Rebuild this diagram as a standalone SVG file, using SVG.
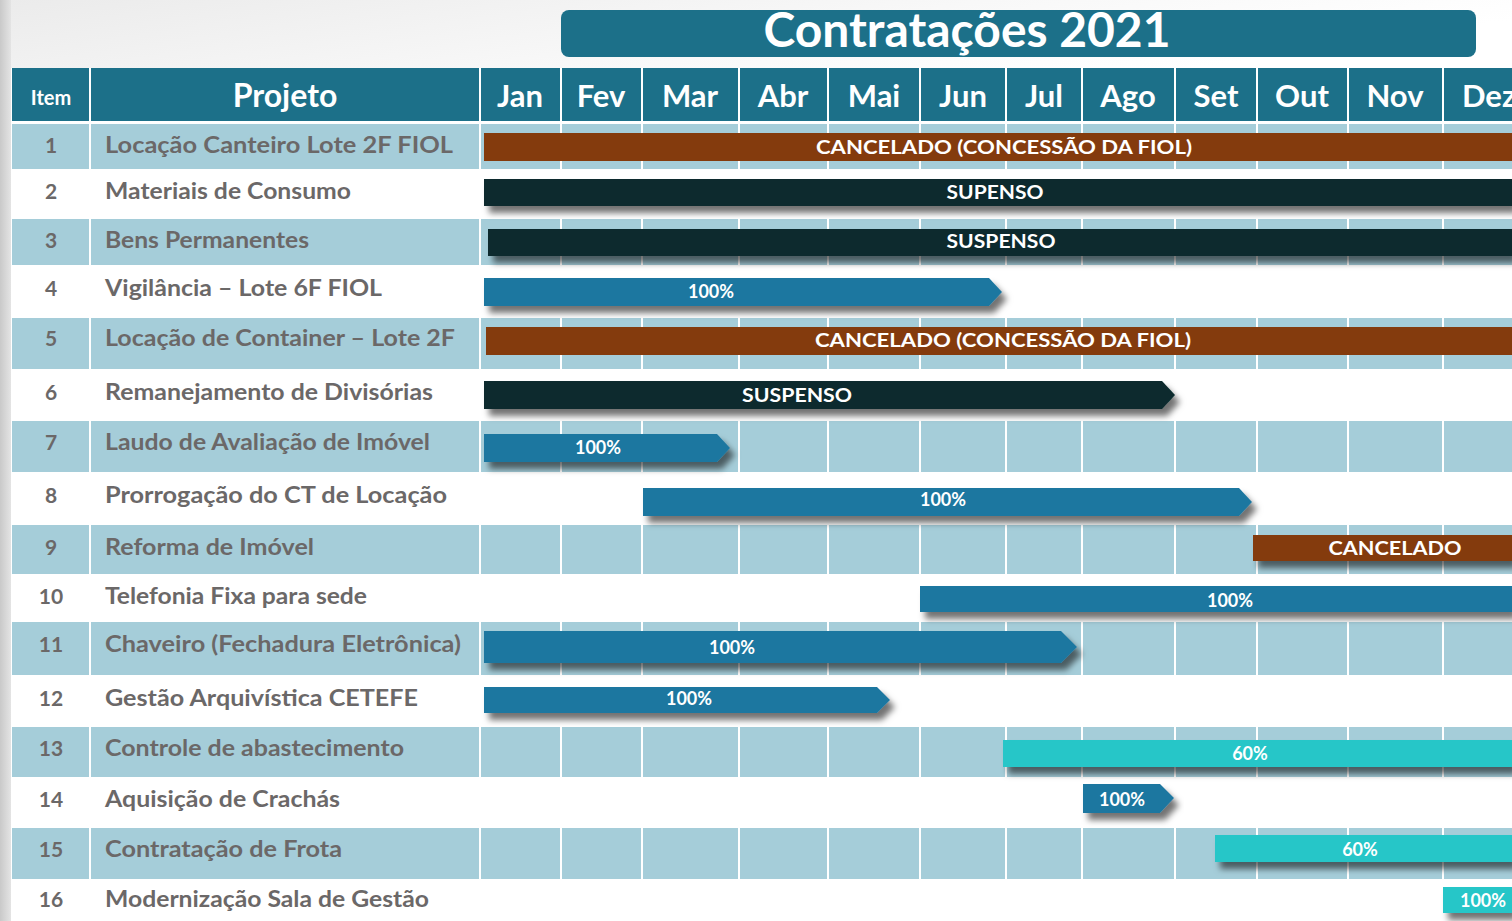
<svg xmlns="http://www.w3.org/2000/svg" width="1512" height="921" viewBox="0 0 1512 921">
<defs>
<linearGradient id="topbg" x1="0" y1="0" x2="1" y2="0.3">
<stop offset="0" stop-color="#ebebeb"/>
<stop offset="0.6" stop-color="#f8f8f8"/>
<stop offset="1" stop-color="#ffffff"/>
</linearGradient>
<linearGradient id="leftbg" x1="0" y1="0" x2="1" y2="0">
<stop offset="0" stop-color="#c9c9c9"/>
<stop offset="1" stop-color="#e4e4e4"/>
</linearGradient>
<filter id="sh" x="-5%" y="-40%" width="115%" height="200%">
<feDropShadow dx="5" dy="7" stdDeviation="3" flood-color="#000" flood-opacity="0.55"/>
</filter>
<style>
.hdr{fill:#1c7089}
.shade{fill:#a5cdd9}
.sep{stroke:#ffffff;stroke-width:2}
.ht{font-family:Lato,"Liberation Sans",sans-serif;font-weight:700;fill:#ffffff;text-anchor:middle}
.num{font-family:Lato,"Liberation Sans",sans-serif;font-weight:700;font-size:21px;fill:#6b6868;text-anchor:middle}
.name{font-family:Lato,"Liberation Sans",sans-serif;font-weight:700;font-size:22px;fill:#6b6868}
.bt{font-family:Lato,"Liberation Sans",sans-serif;font-weight:700;font-size:18px;fill:#ffffff;text-anchor:middle}
.cap{font-size:19px}
.brown{fill:#843b0d}
.dark{fill:#082b2d}
.blue{fill:#1f77a0}
.cyan{fill:#25c6c8}
</style>
</defs>
<rect x="0" y="0" width="1512" height="921" fill="#ffffff"/>
<rect x="0" y="0" width="1512" height="68" fill="url(#topbg)"/>
<rect x="0" y="0" width="11" height="921" fill="url(#leftbg)"/>

<g id="title">
<rect x="561" y="10" width="915" height="47" rx="8" class="hdr"/>
<text x="967" y="47" class="ht" font-size="47" textLength="407" lengthAdjust="spacingAndGlyphs">Contratações 2021</text>
</g>

<g id="header">
<rect x="12" y="68" width="1500" height="53" class="hdr"/>
<g class="sep">
<line x1="90" y1="68" x2="90" y2="121"/><line x1="480" y1="68" x2="480" y2="121"/>
<line x1="561" y1="68" x2="561" y2="121"/><line x1="642" y1="68" x2="642" y2="121"/>
<line x1="739" y1="68" x2="739" y2="121"/><line x1="828" y1="68" x2="828" y2="121"/>
<line x1="920" y1="68" x2="920" y2="121"/><line x1="1006" y1="68" x2="1006" y2="121"/>
<line x1="1082" y1="68" x2="1082" y2="121"/><line x1="1175" y1="68" x2="1175" y2="121"/>
<line x1="1257" y1="68" x2="1257" y2="121"/><line x1="1348" y1="68" x2="1348" y2="121"/>
<line x1="1443" y1="68" x2="1443" y2="121"/>
</g>
<text x="51" y="105" class="ht" font-size="20">Item</text>
<text x="285" y="107" class="ht" font-size="32">Projeto</text>
<text x="520" y="107" class="ht" font-size="31">Jan</text>
<text x="601" y="107" class="ht" font-size="31">Fev</text>
<text x="690" y="107" class="ht" font-size="31">Mar</text>
<text x="783" y="107" class="ht" font-size="31">Abr</text>
<text x="874" y="107" class="ht" font-size="31">Mai</text>
<text x="963" y="107" class="ht" font-size="31">Jun</text>
<text x="1044" y="107" class="ht" font-size="31">Jul</text>
<text x="1128" y="107" class="ht" font-size="31">Ago</text>
<text x="1216" y="107" class="ht" font-size="31">Set</text>
<text x="1302" y="107" class="ht" font-size="31">Out</text>
<text x="1395" y="107" class="ht" font-size="31">Nov</text>
<text x="1462" y="107" class="ht" font-size="31" style="text-anchor:start">Dez</text>
</g>

<g id="grid">
<rect x="12" y="124" width="1500" height="45" class="shade"/>
<rect x="12" y="219" width="1500" height="46" class="shade"/>
<rect x="12" y="318" width="1500" height="51" class="shade"/>
<rect x="12" y="421" width="1500" height="51" class="shade"/>
<rect x="12" y="525" width="1500" height="49" class="shade"/>
<rect x="12" y="622" width="1500" height="53" class="shade"/>
<rect x="12" y="727" width="1500" height="50" class="shade"/>
<rect x="12" y="828" width="1500" height="51" class="shade"/>
<g class="sep">
<line x1="90" y1="122" x2="90" y2="880"/><line x1="480" y1="122" x2="480" y2="880"/>
<line x1="561" y1="122" x2="561" y2="880"/><line x1="642" y1="122" x2="642" y2="880"/>
<line x1="739" y1="122" x2="739" y2="880"/><line x1="828" y1="122" x2="828" y2="880"/>
<line x1="920" y1="122" x2="920" y2="880"/><line x1="1006" y1="122" x2="1006" y2="880"/>
<line x1="1082" y1="122" x2="1082" y2="880"/><line x1="1175" y1="122" x2="1175" y2="880"/>
<line x1="1257" y1="122" x2="1257" y2="880"/><line x1="1348" y1="122" x2="1348" y2="880"/>
<line x1="1443" y1="122" x2="1443" y2="880"/>
</g>
</g>

<g id="row1">
<text x="51" y="153" class="num">1</text>
<text x="105" y="153" class="name" textLength="348" lengthAdjust="spacingAndGlyphs">Locação Canteiro Lote 2F FIOL</text>
<rect x="484" y="133" width="1028" height="28" class="brown"/>
<text x="1004" y="154" class="bt cap" textLength="376" lengthAdjust="spacingAndGlyphs">CANCELADO (CONCESSÃO DA FIOL)</text>
</g>
<g id="row2">
<text x="51" y="199" class="num">2</text>
<text x="105" y="199" class="name" textLength="246" lengthAdjust="spacingAndGlyphs">Materiais de Consumo</text>
<rect x="484" y="179" width="1028" height="27" class="dark" filter="url(#sh)"/>
<text x="995" y="199" class="bt cap" textLength="97" lengthAdjust="spacingAndGlyphs">SUPENSO</text>
</g>
<g id="row3">
<text x="51" y="248" class="num">3</text>
<text x="105" y="248" class="name" textLength="204" lengthAdjust="spacingAndGlyphs">Bens Permanentes</text>
<rect x="488" y="229" width="1024" height="27" class="dark" filter="url(#sh)"/>
<text x="1001" y="248" class="bt cap" textLength="109" lengthAdjust="spacingAndGlyphs">SUSPENSO</text>
</g>
<g id="row4">
<text x="51" y="296" class="num">4</text>
<text x="105" y="296" class="name" textLength="277" lengthAdjust="spacingAndGlyphs">Vigilância – Lote 6F FIOL</text>
<polygon points="484,278 989,278 1002,292 989,306 484,306" class="blue" filter="url(#sh)"/>
<text x="711" y="298" class="bt">100%</text>
</g>
<g id="row5">
<text x="51" y="346" class="num">5</text>
<text x="105" y="346" class="name" textLength="350" lengthAdjust="spacingAndGlyphs">Locação de Container – Lote 2F</text>
<rect x="486" y="327" width="1026" height="28" class="brown"/>
<text x="1003" y="347" class="bt cap" textLength="376" lengthAdjust="spacingAndGlyphs">CANCELADO (CONCESSÃO DA FIOL)</text>
</g>
<g id="row6">
<text x="51" y="400" class="num">6</text>
<text x="105" y="400" class="name" textLength="328" lengthAdjust="spacingAndGlyphs">Remanejamento de Divisórias</text>
<polygon points="484,381 1162,381 1175,395 1162,409 484,409" class="dark" filter="url(#sh)"/>
<text x="797" y="402" class="bt cap" textLength="110" lengthAdjust="spacingAndGlyphs">SUSPENSO</text>
</g>
<g id="row7">
<text x="51" y="450" class="num">7</text>
<text x="105" y="450" class="name" textLength="325" lengthAdjust="spacingAndGlyphs">Laudo de Avaliação de Imóvel</text>
<polygon points="484,434 717,434 730,448 717,462 484,462" class="blue" filter="url(#sh)"/>
<text x="598" y="454" class="bt">100%</text>
</g>
<g id="row8">
<text x="51" y="503" class="num">8</text>
<text x="105" y="503" class="name" textLength="342" lengthAdjust="spacingAndGlyphs">Prorrogação do CT de Locação</text>
<polygon points="643,488 1239,488 1252,502 1239,516 643,516" class="blue" filter="url(#sh)"/>
<text x="943" y="506" class="bt">100%</text>
</g>
<g id="row9">
<text x="51" y="555" class="num">9</text>
<text x="105" y="555" class="name" textLength="209" lengthAdjust="spacingAndGlyphs">Reforma de Imóvel</text>
<rect x="1253" y="535" width="259" height="26" class="brown" filter="url(#sh)"/>
<text x="1395" y="555" class="bt cap" textLength="133" lengthAdjust="spacingAndGlyphs">CANCELADO</text>
</g>
<g id="row10">
<text x="51" y="604" class="num">10</text>
<text x="105" y="604" class="name" textLength="262" lengthAdjust="spacingAndGlyphs">Telefonia Fixa para sede</text>
<rect x="920" y="586" width="592" height="26" class="blue" filter="url(#sh)"/>
<text x="1230" y="607" class="bt">100%</text>
</g>
<g id="row11">
<text x="51" y="652" class="num">11</text>
<text x="105" y="652" class="name" textLength="356" lengthAdjust="spacingAndGlyphs">Chaveiro (Fechadura Eletrônica)</text>
<polygon points="484,631 1061,631 1077,647 1061,663 484,663" class="blue" filter="url(#sh)"/>
<text x="732" y="654" class="bt">100%</text>
</g>
<g id="row12">
<text x="51" y="706" class="num">12</text>
<text x="105" y="706" class="name" textLength="313" lengthAdjust="spacingAndGlyphs">Gestão Arquivística CETEFE</text>
<polygon points="484,687 877,687 890,700 877,713 484,713" class="blue" filter="url(#sh)"/>
<text x="689" y="705" class="bt">100%</text>
</g>
<g id="row13">
<text x="51" y="756" class="num">13</text>
<text x="105" y="756" class="name" textLength="299" lengthAdjust="spacingAndGlyphs">Controle de abastecimento</text>
<rect x="1003" y="740" width="509" height="27" class="cyan" filter="url(#sh)"/>
<text x="1250" y="760" class="bt">60%</text>
</g>
<g id="row14">
<text x="51" y="807" class="num">14</text>
<text x="105" y="807" class="name" textLength="235" lengthAdjust="spacingAndGlyphs">Aquisição de Crachás</text>
<polygon points="1083,784 1160,784 1174,798 1160,813 1083,813" class="blue" filter="url(#sh)"/>
<text x="1122" y="806" class="bt">100%</text>
</g>
<g id="row15">
<text x="51" y="857" class="num">15</text>
<text x="105" y="857" class="name" textLength="237" lengthAdjust="spacingAndGlyphs">Contratação de Frota</text>
<rect x="1215" y="835" width="297" height="27" class="cyan" filter="url(#sh)"/>
<text x="1360" y="856" class="bt">60%</text>
</g>
<g id="row16">
<text x="51" y="907" class="num">16</text>
<text x="105" y="907" class="name" textLength="324" lengthAdjust="spacingAndGlyphs">Modernização Sala de Gestão</text>
<rect x="1443" y="887" width="69" height="26" class="cyan" filter="url(#sh)"/>
<text x="1483" y="907" class="bt">100%</text>
</g>
<g id="connectors"/>
</svg>
